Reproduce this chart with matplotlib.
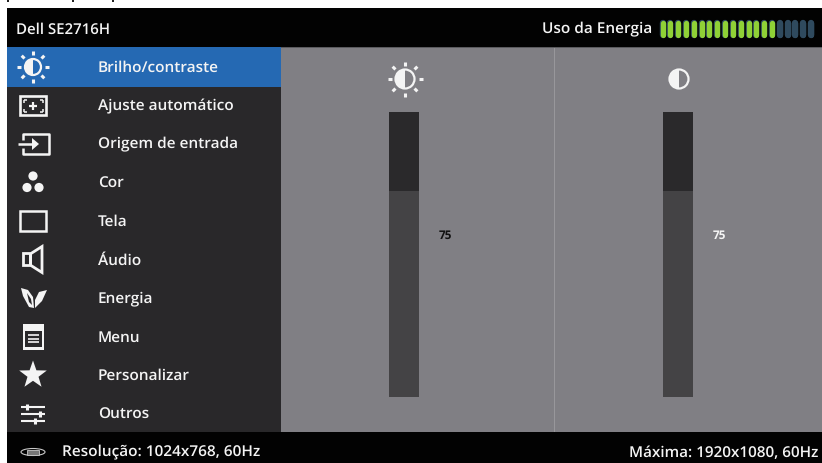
import numpy as np
import matplotlib
matplotlib.use('Agg')
import matplotlib.pyplot as plt
from matplotlib.patches import Rectangle, Circle, Wedge, Polygon, Ellipse

plt.rcParams['font.family'] = ['Open Sans', 'DejaVu Sans']
plt.rcParams['text.hinting'] = 'no_hinting'

# data
model = 'Dell SE2716H'
energy_label = 'Uso da Energia'
energy_on = 15
energy_off = 5
menu_items = ['Brilho/contraste', 'Ajuste automático', 'Origem de entrada', 'Cor', 'Tela',
              'Áudio', 'Energia', 'Menu', 'Personalizar', 'Outros']
slider_values = [75, 75]
slider_max = 104
footer_left = 'Resolução: 1024x768, 60Hz'
footer_right = 'Máxima: 1920x1080, 60Hz'

W, H = 822, 464
BLACK = '#020202'
MENU = '#29282a'
BLUE = '#2569b3'
GREY = '#807f84'
TRACK = '#2a292b'
FILL = '#444345'
WHITE = '#f4f4f4'

fig = plt.figure(figsize=(W / 100, H / 100), dpi=100, facecolor='white')
ax = fig.add_axes([0, 0, 1, 1])
ax.set_xlim(0, W)
ax.set_ylim(H, 0)
ax.axis('off')


def box(x0, y0, x1, y1, color, **kw):
    ax.add_patch(Rectangle((x0, y0), x1 - x0, y1 - y0, fc=color, ec='none', **kw))


def outline(x0, y0, x1, y1, lw=1.5):
    ax.add_patch(Rectangle((x0, y0), x1 - x0, y1 - y0, fc='none', ec=WHITE, lw=lw))


def line(xs, ys, lw=1.2):
    ax.plot(xs, ys, color=WHITE, lw=lw, solid_capstyle='butt')


def half_moon(cx, cy, r, bg):
    ax.add_patch(Circle((cx, cy), r, fc=bg, ec=WHITE, lw=1.6))
    ax.add_patch(Wedge((cx, cy), r, 90, 270, fc=WHITE, ec='none'))


def sun(cx, cy, r, bg):
    for ang in np.arange(0, 360, 45):
        c, s = np.cos(np.radians(ang)), np.sin(np.radians(ang))
        line([cx + c * (r + 4), cx + c * (r + 8)], [cy + s * (r + 4), cy + s * (r + 8)], lw=2.2)
    half_moon(cx, cy, r, bg)


# background blocks
box(7, 9, W, 48, BLACK)
box(7, 48, 281, 433, MENU)
box(281, 48, W, 433, GREY)
box(7, 433, W, H, BLACK)
box(7, 48, 281, 88, BLUE)
box(281, 47.5, W, 48.5, '#5a5a5e', zorder=2)
box(554, 48, 555, 433, '#98979b')
# scraps of text above the screenshot
for x in (7, 72, 112):
    box(x, 0, x + 1.5, 3, '#222222')

ax.text(16, 29.5, model, color=WHITE, fontsize=10.8, fontweight='semibold', va='center')
ax.text(542, 29.5, energy_label, color=WHITE, fontsize=11.1, fontweight='semibold', va='center')

# energy meter
for i in range(energy_on + energy_off):
    c = '#8fd136' if i < energy_on else '#2f4a5e'
    x = 662.5 + i * 7.82
    ax.plot([x, x], [24, 35.5], color='#2f4a5e', lw=4.6, solid_capstyle='round', zorder=3)
    ax.plot([x, x], [24, 35.5], color=c, lw=3.8, solid_capstyle='round', zorder=4)

# menu rows
rows_y = [68 + i * 38.5 for i in range(len(menu_items))]
for name, y in zip(menu_items, rows_y):
    ax.text(98, y, name, color=WHITE, fontsize=11.1, fontweight='semibold', va='center')

# icons
sun(33, rows_y[0], 8, BLUE)

y = rows_y[1]
outline(19.5, y - 9.5, 46, y + 9.5, lw=1.9)
line([29, 37], [y, y], lw=1.6)
line([33, 33], [y - 4, y + 4], lw=1.6)
for sx, sy in [(-1, -1), (1, -1), (-1, 1), (1, 1)]:
    cx, cy = 33 + sx * 9.5, y + sy * 6
    line([cx, cx - sx * 3], [cy, cy], lw=1.1)
    line([cx, cx], [cy, cy - sy * 3], lw=1.1)

y = rows_y[2]
line([23, 23, 48.5, 48.5, 23, 23], [y - 4, y - 10, y - 10, y + 10, y + 10, y + 4], lw=1.8)
line([18, 36], [y, y], lw=1.8)
ax.add_patch(Polygon([[32, y - 6], [39, y], [32, y + 6]], fc=WHITE, ec='none'))

y = rows_y[3]
for dx, dy in [(0, -6.5), (-6, 5), (6, 5)]:
    ax.add_patch(Circle((33 + dx, y + dy), 4.6, fc=WHITE, ec='none'))

y = rows_y[4]
outline(20, y - 10, 46, y + 10, lw=1.8)

y = rows_y[5]
ax.add_patch(Polygon([[23.5, y - 6], [31, y - 6], [42, y - 13], [42, y + 13], [31, y + 6], [23.5, y + 6]],
                     fc='none', ec=WHITE, lw=2))
box(29, y - 6, 31.5, y + 6, WHITE)

y = rows_y[6]
ax.add_patch(Polygon([[21, y - 10], [28, y - 8], [33, y - 1], [34, y + 10], [29, y + 9], [23, y - 2]],
                     fc=WHITE, ec='none'))
ax.add_patch(Polygon([[47, y - 8], [39, y - 6], [35, y + 2], [35, y + 10], [42, y + 3]],
                     fc=WHITE, ec='none'))
ax.add_patch(Polygon([[27, y - 5], [31, y + 1], [32, y + 7], [29, y + 4]], fc=MENU, ec='none'))

y = rows_y[7]
box(22.5, y - 13, 44, y + 13, WHITE)
box(25, y - 6, 41.5, y + 10, MENU)
for dy in (-1.5, 2, 5.5):
    line([28, 38.5], [y + dy, y + dy], lw=1.2)

y = rows_y[8]
ang = np.radians(np.arange(-90, 270, 36))
rad = np.tile([14.5, 5.8], 5)
ax.add_patch(Polygon(np.c_[33 + rad * np.cos(ang), y + rad * np.sin(ang)], fc=WHITE, ec='none'))

y = rows_y[9]
for dy, knob in [(-7, 27), (0, 40), (7, 35)]:
    line([21, 45], [y + dy, y + dy], lw=1.5)
    line([knob, knob], [y + dy - 3, y + dy + 3], lw=2.2)

# sliders, each on its own value scale
for left, val in zip([389, 663], slider_values):
    sl = fig.add_axes([left / W, 1 - 398 / H, 30 / W, 285 / H])
    sl.set_xlim(0, 1)
    sl.set_ylim(0, slider_max)
    sl.axis('off')
    sl.bar(0.5, slider_max, width=1, color=TRACK)
    sl.bar(0.5, val, width=1, color=FILL)
    sl.text(1.87, val - 15.7, str(val), color='#111111' if left < 500 else WHITE, fontsize=8.5,
            fontweight='bold', va='center', ha='center')

sun(405, 80, 9.5, GREY)
half_moon(679, 80, 9.5, GREY)

# footer
y = 453
ax.add_patch(Ellipse((33, y), 24, 7, fc='none', ec='#c8c8c8', lw=0.8))
ax.add_patch(Rectangle((27, y - 2.5), 12, 5, fc='#777777', ec='#c8c8c8', lw=0.6))
ax.text(62, y, footer_left, color=WHITE, fontsize=11.1, fontweight='semibold', va='center')
ax.text(818, y, footer_right, color=WHITE, fontsize=11, fontweight='semibold', va='center', ha='right')

fig.savefig('out.png', dpi=100)
